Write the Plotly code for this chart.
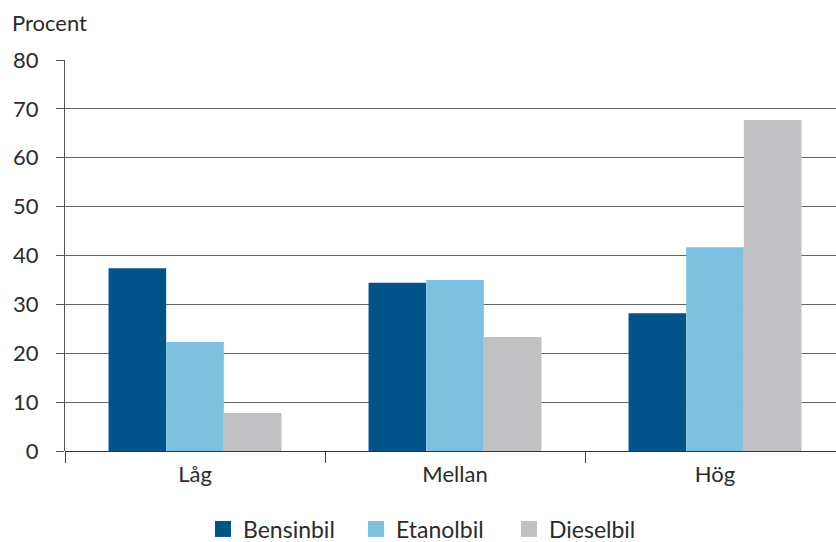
import plotly.graph_objects as go

categories = ["Låg", "Mellan", "Hög"]
bensinbil = [37.4, 34.4, 28.2]
etanolbil = [22.3, 35.0, 41.7]
dieselbil = [7.8, 23.3, 67.7]
series_names = ["Bensinbil", "Etanolbil", "Dieselbil"]
colors = ["#00548A", "#7EC1DF", "#C1C1C4"]
y_ticks = [0, 10, 20, 30, 40, 50, 60, 70, 80]

FONT = "Lato"
TXT = "#2b2b2b"
FS = 22

fig = go.Figure()
for name, vals, col in zip(series_names, [bensinbil, etanolbil, dieselbil], colors):
    fig.add_trace(go.Bar(x=categories, y=vals, name=name, marker_color=col,
                         marker_line_width=0, showlegend=False))
for name, col in zip(series_names, colors):
    fig.add_trace(go.Scatter(x=[None], y=[None], mode="markers", name=name,
                             marker=dict(symbol="square", size=22, color=col)))

fig.update_layout(
    width=836, height=542,
    margin=dict(l=65, r=0, t=60, b=91, autoexpand=False),
    plot_bgcolor="white", paper_bgcolor="white",
    font=dict(family=FONT, size=FS, color=TXT),
    barmode="group", bargap=0.335, bargroupgap=0,
    showlegend=True,
    legend=dict(orientation="h", x=(203 - 65) / 771, xanchor="left",
                y=(451 - 529) / 391, yanchor="middle",
                font=dict(family=FONT, size=23, color=TXT),
                entrywidth=108, entrywidthmode="pixels",
                itemsizing="trace", tracegroupgap=0, itemwidth=30),
    annotations=[dict(text="Procent", xref="paper", yref="paper", x=(10 - 65) / 771, xanchor="left",
                      y=(451 - 22) / 391, yanchor="middle", showarrow=False,
                      font=dict(family=FONT, size=FS, color=TXT))],
)
fig.update_xaxes(type="category", range=[-0.5, -0.5 + 771 / 260], automargin=False,
                 tickson="boundaries", ticks="outside", ticklen=11, tickcolor="#444",
                 ticklabelstandoff=8,
                 showline=False, showgrid=False, tickfont=dict(size=FS, color=TXT))
fig.update_yaxes(range=[0, 80], tickvals=y_ticks, ticks="outside", ticklen=8, tickcolor="#555",
                 automargin=False,
                 showgrid=True, gridcolor="#666", gridwidth=1,
                 zeroline=True, zerolinecolor="#333", zerolinewidth=1,
                 showline=True, linecolor="#555", linewidth=1,
                 ticklabelstandoff=13, tickfont=dict(size=FS, color=TXT))

fig.write_html("out.html", config={"displayModeBar": False},
               post_script="document.body.style.margin='0';document.body.style.overflow='hidden';")
